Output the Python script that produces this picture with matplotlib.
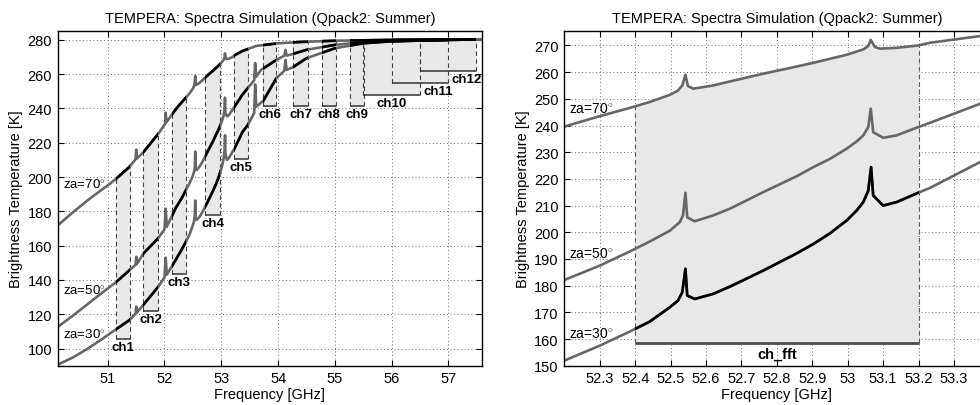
import numpy as np
import matplotlib
matplotlib.use('Agg')
import matplotlib.pyplot as plt
from matplotlib.patches import Rectangle

plt.rcParams['font.family'] = ['Liberation Sans', 'DejaVu Sans']
plt.rcParams['mathtext.fontset'] = 'custom'
plt.rcParams['mathtext.rm'] = 'Liberation Sans'

# ---------------- data ----------------
freq_za70 = [50.12, 50.40, 50.65, 50.86, 50.98, 51.13, 51.38, 51.49, 51.503, 51.515,
             51.63, 51.89, 52.01, 52.021, 52.035, 52.20, 52.30, 52.385, 52.441, 52.498,
             52.521, 52.533, 52.542, 52.549, 52.564, 52.620, 52.667, 52.761, 52.856, 52.903,
             52.95, 52.997, 53.044, 53.058, 53.065, 53.077, 53.091, 53.138, 53.199, 53.232,
             53.373, 53.47, 53.62, 54.00, 54.40, 55.00, 56.00, 57.59]
tb_za70 = [171.8, 179.8, 186.5, 191.8, 194.6, 198.5, 205.8, 210.3, 216.0, 210.8,
           214.6, 225.2, 231.0, 237.5, 232.0, 239.6, 243.5, 246.6, 248.8, 251.5,
           253.1, 255.0, 259.0, 254.8, 253.8, 255.0, 256.5, 259.4, 262.1, 263.5,
           265.0, 266.5, 268.5, 269.8, 272.1, 269.4, 268.8, 269.1, 270.0, 271.0,
           273.5, 274.7, 276.5, 278.0, 278.8, 279.5, 280.0, 280.3]

freq_za50 = [50.12, 50.40, 50.65, 50.90, 51.15, 51.38, 51.49, 51.503, 51.515, 51.63,
             51.88, 52.00, 52.021, 52.04, 52.20, 52.30, 52.385, 52.441, 52.498, 52.526,
             52.535, 52.542, 52.547, 52.568, 52.620, 52.667, 52.761, 52.856, 52.903, 52.95,
             52.997, 53.025, 53.044, 53.058, 53.065, 53.072, 53.100, 53.138, 53.199, 53.232,
             53.373, 53.47, 53.58, 53.596, 53.615, 53.70, 53.97, 54.11, 54.13, 54.15,
             54.26, 54.50, 55.00, 55.50, 56.00, 57.00, 57.59]
tb_za50 = [112.6, 119.5, 126.0, 132.5, 138.8, 145.6, 148.8, 153.5, 149.3, 155.5,
           164.0, 169.5, 181.5, 171.0, 182.1, 187.5, 192.8, 196.5, 200.6, 203.8,
           206.3, 214.8, 205.6, 204.1, 206.3, 208.8, 215.0, 221.0, 224.4, 227.5,
           231.3, 234.0, 236.3, 239.4, 246.3, 237.5, 235.4, 236.3, 239.4, 241.0,
           248.1, 252.0, 256.5, 266.5, 258.5, 262.5, 268.3, 270.8, 274.2, 270.8,
           271.8, 274.2, 277.1, 278.6, 279.4, 280.0, 280.3]

freq_za30 = [50.12, 50.40, 50.65, 50.90, 51.15, 51.38, 51.49, 51.503, 51.515, 51.63,
             51.89, 52.00, 52.021, 52.04, 52.20, 52.30, 52.385, 52.441, 52.498, 52.521,
             52.533, 52.542, 52.547, 52.568, 52.620, 52.667, 52.761, 52.856, 52.903, 52.95,
             52.997, 53.025, 53.044, 53.058, 53.066, 53.072, 53.100, 53.138, 53.199, 53.232,
             53.373, 53.47, 53.58, 53.596, 53.615, 53.74, 53.97, 54.11, 54.13, 54.15,
             54.26, 54.50, 55.00, 55.50, 56.00, 57.00, 57.59]
tb_za30 = [90.6, 95.0, 100.0, 105.5, 111.3, 116.5, 120.3, 124.5, 121.0, 125.6,
           136.0, 141.5, 153.0, 143.0, 151.9, 157.5, 162.8, 166.5, 171.9, 174.4,
           177.5, 186.3, 176.3, 175.0, 176.9, 179.6, 185.6, 192.1, 195.6, 199.6,
           204.4, 208.1, 211.3, 215.6, 224.4, 213.8, 210.0, 211.3, 214.8, 216.6,
           226.25, 230.5, 237.5, 254.0, 241.0, 244.5, 257.7, 262.0, 268.3, 262.5,
           264.0, 269.3, 275.1, 278.0, 279.2, 280.0, 280.3]

channel_names = ['ch1', 'ch2', 'ch3', 'ch4', 'ch5', 'ch6', 'ch7', 'ch8', 'ch9',
                 'ch10', 'ch11', 'ch12']
channel_lo = [51.14, 51.63, 52.14, 52.72, 53.23, 53.73, 54.27, 54.77, 55.27,
              55.50, 56.00, 56.50]
channel_hi = [51.39, 51.89, 52.38, 52.98, 53.47, 53.97, 54.52, 55.02, 55.51,
              56.50, 56.99, 57.49]
channel_floor = [105.8, 121.7, 143.7, 177.9, 210.7, 241.2, 241.2, 241.2, 241.2,
                 247.9, 254.8, 262.1]

fft_name = 'ch_fft'
fft_lo, fft_hi, fft_floor = 52.4, 53.2, 158.5

left_xticks = [51, 52, 53, 54, 55, 56, 57]
left_yticks = [100, 120, 140, 160, 180, 200, 220, 240, 260, 280]
right_xticks = [52.3, 52.4, 52.5, 52.6, 52.7, 52.8, 52.9, 53.0, 53.1, 53.2, 53.3]
right_xticklabels = ['52.3', '52.4', '52.5', '52.6', '52.7', '52.8', '52.9', '53',
                     '53.1', '53.2', '53.3']
right_yticks = [150, 160, 170, 180, 190, 200, 210, 220, 230, 240, 250, 260, 270]

title = 'TEMPERA: Spectra Simulation (Qpack2: Summer)'
curve_labels = ['za=70', 'za=50', 'za=30']

# ---------------- styling ----------------
GRAY = '#666666'
FILL = '#e8e8e8'
LW = 1.9

fig = plt.figure(figsize=(9.8, 4.06), dpi=100)
W, H = 980.0, 406.0
ax1 = fig.add_axes([57.7 / W, 1 - 366.7 / H, (482.0 - 57.7) / W, (366.7 - 32.3) / H])
ax2 = fig.add_axes([564.3 / W, 1 - 366.7 / H, (989.4 - 564.3) / W, (366.7 - 32.3) / H])

curves = [(np.array(freq_za70), np.array(tb_za70)),
          (np.array(freq_za50), np.array(tb_za50)),
          (np.array(freq_za30), np.array(tb_za30))]
f70, t70 = curves[0]


def style_axes(ax):
    ax.grid(True, linestyle=(0, (1, 2.6)), color='0.45', linewidth=0.7)
    ax.set_axisbelow(True)
    ax.tick_params(direction='in', top=True, right=True, length=4, width=0.8,
                   labelsize=10.5, pad=4)
    for s in ax.spines.values():
        s.set_linewidth(1.0)
        s.set_zorder(10)
    ax.set_title(title, fontsize=10.5, pad=7)
    ax.set_xlabel('Frequency [GHz]', fontsize=10.5, labelpad=1)
    ax.set_ylabel('Brightness Temperature [K]', fontsize=10.5, labelpad=3)


def channel(ax, lo, hi, floor, black_idx, bracket_color, bracket_lw, dash_color):
    poly = ax.fill_between(f70, floor, t70, color=FILL, lw=0, zorder=1)
    poly.set_clip_path(Rectangle((lo, floor), hi - lo, 1000, transform=ax.transData))
    for x in (lo, hi):
        ax.plot([x, x], [floor, np.interp(x, f70, t70)], color=dash_color, lw=0.8,
                dashes=(4, 3), zorder=2)
    ax.plot([lo, hi], [floor, floor], color=bracket_color, lw=bracket_lw,
            solid_capstyle='butt', zorder=2.5)
    for i in black_idx:
        f, t = curves[i]
        ln, = ax.plot(f, t, color='k', lw=LW, zorder=4)
        ln.set_clip_path(Rectangle((lo, -1000), hi - lo, 3000, transform=ax.transData))


# ---------------- left panel ----------------
for f, t in curves:
    ax1.plot(f, t, color=GRAY, lw=LW, zorder=3)

label_x = [(lo + hi) / 2 for lo, hi in zip(channel_lo, channel_hi)]
label_x[10] = channel_hi[10] - 0.17
label_x[11] = channel_hi[11] - 0.17
for name, lo, hi, fl, lx in zip(channel_names, channel_lo, channel_hi, channel_floor, label_x):
    channel(ax1, lo, hi, fl, [0, 1, 2], '0.2', 1.1, '0.25')
    ax1.annotate(name, xy=(lx, fl), xytext=(0, -1.5), textcoords='offset points',
                 ha='center', va='top', fontsize=9.5, fontweight='bold', zorder=6)

ax1.set_xlim(50.12, 57.59)
ax1.set_ylim(90, 285)
ax1.set_xticks(left_xticks)
ax1.set_yticks(left_yticks)
style_axes(ax1)

for lab, y in zip(curve_labels, [196, 134, 108.3]):
    ax1.text(50.21, y, lab + r'$^{\circ}$', fontsize=9.5, va='center', ha='left', zorder=6)

# ---------------- right panel ----------------
for f, t in curves:
    ax2.plot(f, t, color=GRAY, lw=LW, zorder=3)
channel(ax2, fft_lo, fft_hi, fft_floor, [2], '0.3', 2.0, '0.35')
ax2.annotate(fft_name, xy=((fft_lo + fft_hi) / 2, fft_floor), xytext=(0, -3),
             textcoords='offset points', ha='center', va='top', fontsize=10.5,
             fontweight='bold', zorder=6)

ax2.set_xlim(52.2, 53.4)
ax2.set_ylim(150, 275.3)
ax2.set_xticks(right_xticks)
ax2.set_xticklabels(right_xticklabels)
ax2.set_yticks(right_yticks)
style_axes(ax2)

for lab, y in zip(curve_labels, [246.3, 191.9, 161.9]):
    ax2.text(52.212, y, lab + r'$^{\circ}$', fontsize=10, va='center', ha='left', zorder=6)

fig.savefig('out.png', dpi=100)
